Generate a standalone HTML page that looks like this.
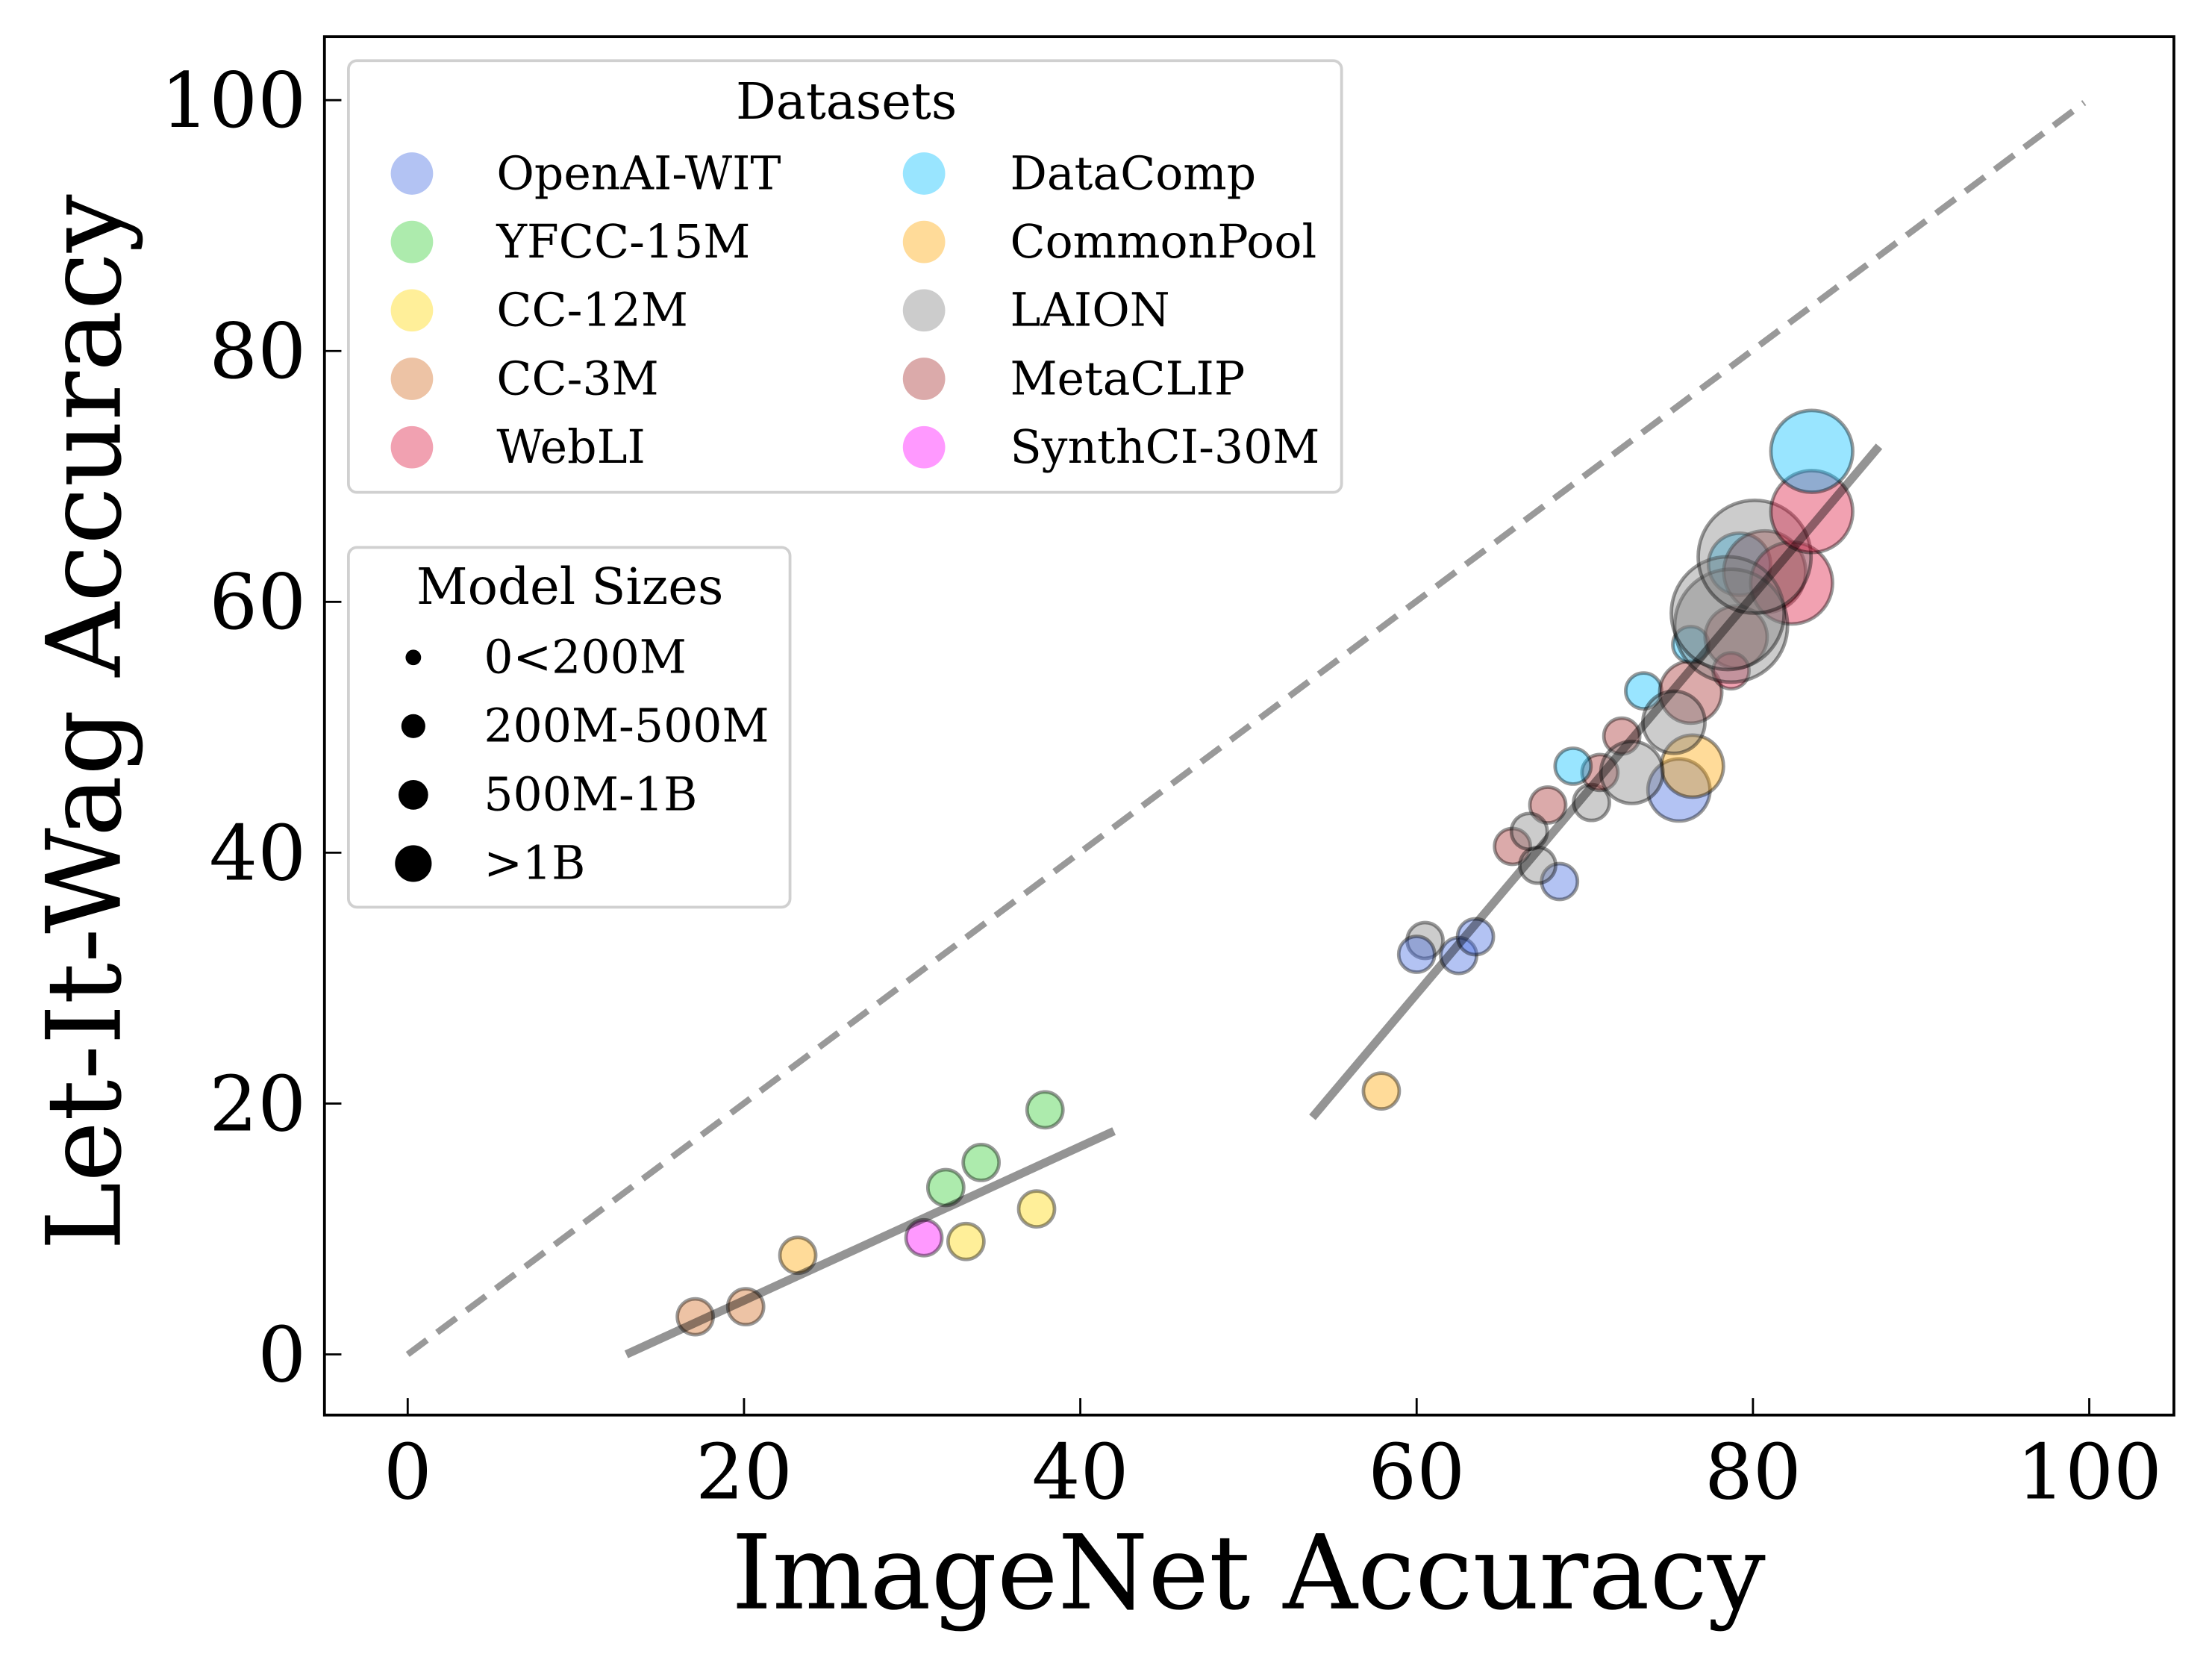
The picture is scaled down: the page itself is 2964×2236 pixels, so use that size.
<!DOCTYPE html>
<html><head><meta charset="utf-8"><style>
html,body{margin:0;padding:0;background:#fff;}
svg{display:block;font-family:"DejaVu Serif","Liberation Serif",serif;}
</style></head><body>
<svg id="chart" width="2964" height="2236" viewBox="0 0 1568 1183" preserveAspectRatio="none" xmlns="http://www.w3.org/2000/svg">
<rect width="1568" height="1183" fill="#fff"/>
<g id="plot"></g>
<rect x="230" y="26" width="1311" height="977" fill="none" stroke="#000" stroke-width="2"/>
<g id="ticks"></g>
<text x="885" y="1140" font-size="73" text-anchor="middle">ImageNet Accuracy</text>
<text transform="translate(85,512) rotate(-90)" font-size="73" text-anchor="middle">Let-It-Wag Accuracy</text>
<g id="legend1">
<rect x="247" y="43" width="704" height="306" rx="6" fill="#fff" fill-opacity="0.8" stroke="#d0d0d0" stroke-width="2"/>
<text x="600" y="84" font-size="35.5" text-anchor="middle">Datasets</text>
</g>
<g id="legend2">
<rect x="247" y="388" width="313" height="255" rx="6" fill="#fff" fill-opacity="0.8" stroke="#d0d0d0" stroke-width="2"/>
<text x="404" y="428" font-size="35.5" text-anchor="middle">Model Sizes</text>
</g>
</svg>
<script>
const datasetNames = ["OpenAI-WIT","YFCC-15M","CC-12M","CC-3M","WebLI","DataComp","CommonPool","LAION","MetaCLIP","SynthCI-30M"];
const datasetColors = ["#4169E1","#32CD32","#FFD700","#D2691E","#DC143C","#00BFFF","#FFA500","#808080","#A52A2A","#FF00FF"];
const sizeLabels = ["0<200M","200M-500M","500M-1B",">1B"];
const xTicks = [0,20,40,60,80,100];
const yTicks = [0,20,40,60,80,100];
// points: dataset index, imagenet acc, let-it-wag acc, size class
const ptX = [17.1,20.1,23.2,33.2,37.4,30.7,32.0,34.1,37.9,57.9,
  60.5,60.0,62.5,63.5,68.5,65.7,67.2,75.6,67.8,66.7,70.4,70.9,69.3,76.4,72.2,72.8,73.5,76.3,76.3,75.3,79.0,78.7,79.2,80.7,82.3,78.7,78.5,80.1,83.5,83.5];
const ptY = [3.0,3.8,7.9,9.0,11.6,9.3,13.3,15.3,19.5,21.0,
  33.0,31.9,31.8,33.3,37.7,40.5,39.0,45.0,43.8,41.7,44.0,46.4,46.9,46.9,49.3,46.4,52.9,52.8,56.6,50.4,57.2,54.5,63.0,62.4,61.5,58.1,59.1,63.6,67.2,72.0];
const ptSize = [0,0,0,0,0,0,0,0,0,0,
  0,0,0,0,0,0,0,1,0,0,0,0,0,1,0,1,0,1,0,1,1,0,1,2,2,3,3,3,2,2];
const ptDs = [3,3,6,2,2,9,1,1,1,6,
  7,0,0,0,0,8,7,0,8,7,7,8,5,6,8,7,5,8,5,7,8,4,5,8,4,7,7,7,4,5];
const fit1X = [13,42], fit1Y = [0,17.8];
const fit2X = [53.8,87.5], fit2Y = [18.9,72.4];
const diagX = [0,99.7], diagY = [0,99.8];

const NS="http://www.w3.org/2000/svg";
const sx = v => 289 + v*11.92;
const sy = v => 960 - v*8.89;
const radii = [12.7,22,29,40];
function mk(tag, attrs, parent){const e=document.createElementNS(NS,tag);for(const k in attrs)e.setAttribute(k,attrs[k]);parent.appendChild(e);return e;}
const plot=document.getElementById('plot');
let l=mk('line',{x1:sx(diagX[0]),y1:sy(diagY[0]),x2:sx(diagX[1]),y2:sy(diagY[1]),stroke:'#999','stroke-width':4.5,'stroke-dasharray':'17,9'},plot);


for(let i=0;i<ptDs.length;i++){
  const c=mk('circle',{cx:sx(ptX[i]),cy:sy(ptY[i]),r:radii[ptSize[i]],fill:datasetColors[ptDs[i]],'fill-opacity':0.4,stroke:'#000','stroke-opacity':0.4,'stroke-width':2.5},plot);
  
  
}
l=mk('line',{x1:sx(fit1X[0]),y1:sy(fit1Y[0]),x2:sx(fit1X[1]),y2:sy(fit1Y[1]),stroke:'#000','stroke-opacity':0.42,'stroke-width':6},plot);


l=mk('line',{x1:sx(fit2X[0]),y1:sy(fit2Y[0]),x2:sx(fit2X[1]),y2:sy(fit2Y[1]),stroke:'#000','stroke-opacity':0.42,'stroke-width':6},plot);


const ticks=document.getElementById('ticks');
xTicks.forEach(v=>{
  let t=mk('line',{x1:sx(v),y1:1003,x2:sx(v),y2:991,stroke:'#000','stroke-width':1.5},ticks);
  
  
  let tx=mk('text',{x:sx(v),y:1062,'font-size':54,'text-anchor':'middle'},ticks);tx.textContent=v;
  
  
});
yTicks.forEach(v=>{
  let t=mk('line',{x1:230,y1:sy(v),x2:242,y2:sy(v),stroke:'#000','stroke-width':1.5},ticks);
  
  
  let tx=mk('text',{x:217,y:sy(v)+19,'font-size':54,'text-anchor':'end'},ticks);tx.textContent=v;
  
  
});
const lg1=document.getElementById('legend1');
datasetNames.forEach((n,i)=>{
  const col=Math.floor(i/5), row=i%5;
  const mx=292+col*363, my=123+row*48.5;
  let c=mk('circle',{cx:mx,cy:my,r:15,fill:datasetColors[i],'fill-opacity':0.4},lg1);
  
  
  let t=mk('text',{x:352+col*364,y:my+11,'font-size':32.6},lg1);t.textContent=n;
  
  
});
const lg2=document.getElementById('legend2');
const legR=[5.5,8.5,10.5,13];
sizeLabels.forEach((n,i)=>{
  const my=466+i*48.7;
  let c=mk('circle',{cx:293,cy:my,r:legR[i],fill:'#000'},lg2);
  
  
  let t=mk('text',{x:343,y:my+11,'font-size':32.6},lg2);t.textContent=n;
  
  
});
</script>
</body></html>
